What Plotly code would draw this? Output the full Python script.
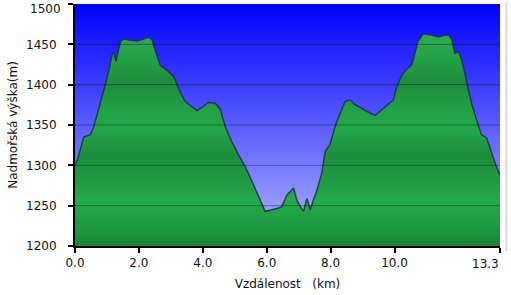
import plotly.graph_objects as go

# ---- data ----
distance_km = [0.0, 0.07, 0.275, 0.48, 0.59, 0.74, 0.90, 1.06, 1.16, 1.21, 1.28, 1.42, 1.53, 1.73,
               1.94, 2.10, 2.31, 2.41, 2.52, 2.67, 2.88, 3.09, 3.30, 3.45, 3.66, 3.82, 3.98,
               4.18, 4.39, 4.55, 4.70, 4.91, 5.12, 5.33, 5.54, 5.74, 5.90, 5.95, 6.16, 6.37,
               6.47, 6.63, 6.84, 6.94, 7.05, 7.15, 7.26, 7.36, 7.46, 7.57, 7.72, 7.83, 7.98,
               8.14, 8.30, 8.45, 8.61, 8.77, 8.92, 9.13, 9.39, 9.60, 9.81, 9.96, 10.07, 10.23,
               10.38, 10.54, 10.64, 10.74, 10.90, 11.11, 11.37, 11.52, 11.68, 11.79, 11.89,
               12.00, 12.10, 12.26, 12.41, 12.57, 12.72, 12.88, 13.04, 13.19, 13.3]
elevation_m = [1302, 1306, 1335, 1338, 1348, 1369, 1393, 1418, 1437, 1440, 1429, 1453, 1457, 1455,
               1454, 1456, 1459, 1456, 1441, 1424, 1418, 1410, 1390, 1379, 1373, 1368, 1372,
               1378, 1377, 1369, 1348, 1329, 1313, 1298, 1280, 1263, 1249, 1243, 1245, 1247,
               1249, 1263, 1272, 1257, 1249, 1243, 1259, 1245, 1257, 1269, 1290, 1317, 1326,
               1348, 1365, 1379, 1381, 1375, 1372, 1367, 1362, 1369, 1375, 1381, 1397, 1412,
               1419, 1425, 1439, 1454, 1463, 1462, 1459, 1461, 1462, 1456, 1439,
               1441, 1431, 1404, 1377, 1356, 1338, 1334, 1315, 1298, 1288]

x_ticks = [0.0, 2.0, 4.0, 6.0, 8.0, 10.0, 13.3]
x_tick_text = ["0.0", "2.0", "4.0", "6.0", "8.0", "10.0", "13.3"]
y_ticks = [1200, 1250, 1300, 1350, 1400, 1450, 1500]
y_tick_text = [str(v) for v in y_ticks]
x_range = [0.0, 13.3]
y_range = [1200, 1500]

FONT = "DejaVu Sans"
TXT = "#111"

fig = go.Figure()

# background gradient (plot area)
fig.add_trace(go.Scatter(
    x=[x_range[0], x_range[1], x_range[1], x_range[0], x_range[0]],
    y=[y_range[0], y_range[0], y_range[1], y_range[1], y_range[0]],
    mode="lines", line=dict(width=0), fill="toself",
    fillgradient=dict(type="vertical", start=y_range[0], stop=y_range[1],
                      colorscale=[[0, "#b4b8fa"], [0.5, "#5a5cfd"], [1, "#0000ff"]]),
    hoverinfo="skip", showlegend=False))

# elevation profile
fig.add_trace(go.Scatter(
    x=distance_km, y=elevation_m, mode="lines",
    line=dict(color="rgba(20,55,40,0.85)", width=1.5),
    fill="tozeroy",
    fillgradient=dict(type="vertical", start=1200, stop=1465,
                      colorscale=[[0.0, "#1a8436"], [0.09, "#1f9a41"], [0.21, "#23ab4a"],
                                  [0.34, "#1f9641"], [0.42, "#1d8d3d"], [0.55, "#22a848"],
                                  [0.65, "#21a046"], [0.76, "#1d8c3c"], [0.88, "#23a146"],
                                  [1.0, "#2cab4f"]]),
    hoverinfo="skip", showlegend=False))

# grid lines drawn above the fill
for yv in y_ticks[1:-1]:
    fig.add_shape(type="line", xref="x", yref="y", x0=x_range[0], x1=x_range[1], y0=yv, y1=yv,
                  line=dict(color="rgba(0,0,0,0.35)", width=1), layer="above")

# right border strip
fig.add_shape(type="line", xref="paper", yref="paper", x0=1.015, x1=1.015, y0=-0.02, y1=1.01,
              line=dict(color="#d9d9d9", width=2), layer="above")

# edge labels placed like the reference (last x label right-aligned, top y label pushed down)
x_text_shown = x_tick_text[:-1] + [""]
y_text_shown = y_tick_text[:-1] + [""]
fig.add_annotation(x=x_ticks[-1], y=0, xref="x", yref="paper", text=x_tick_text[-1],
                   showarrow=False, xanchor="right", yanchor="top", yshift=-9, xshift=1,
                   font=dict(family=FONT, size=12, color=TXT))
fig.add_annotation(x=0, y=y_ticks[-1], xref="paper", yref="y", text=y_tick_text[-1],
                   showarrow=False, xanchor="right", yanchor="top", yshift=4, xshift=-12,
                   font=dict(family=FONT, size=12, color=TXT))

fig.update_layout(
    template="none",
    width=511, height=295,
    margin=dict(l=75, r=11, t=4, b=49, autoexpand=False),
    paper_bgcolor="white", plot_bgcolor="white",
    font=dict(family=FONT, size=12, color=TXT),
    xaxis=dict(range=x_range, tickvals=x_ticks, ticktext=x_text_shown,
               showgrid=False, zeroline=False, showline=True, linecolor="black", linewidth=2,
               ticks="outside", ticklen=5, tickwidth=2, tickcolor="black",
               ticklabeloverflow="allow", automargin=False,
               title=dict(text="Vzdálenost\u00a0\u00a0\u00a0(km)", standoff=10,
                          font=dict(family=FONT, size=12)),
               layer="above traces"),
    yaxis=dict(range=y_range, tickvals=y_ticks, ticktext=y_text_shown,
               showgrid=False, zeroline=False, showline=True, linecolor="black", linewidth=2,
               ticks="outside", ticklen=5, tickwidth=2, tickcolor="black",
               ticklabeloverflow="allow", ticklabelstandoff=9, automargin=False,
               title=dict(text="Nadmořská výška(m)", standoff=6,
                          font=dict(family=FONT, size=12)),
               layer="above traces"),
)

fig.write_html("out.html")
